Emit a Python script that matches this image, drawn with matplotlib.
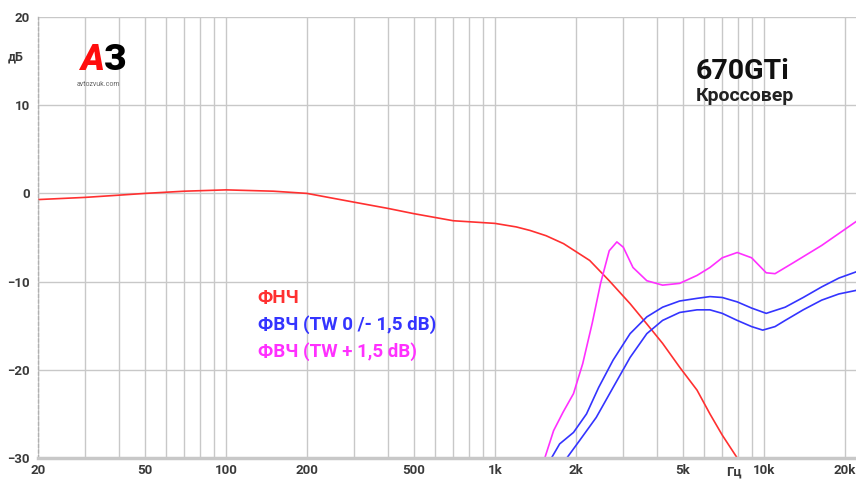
import matplotlib
matplotlib.use('Agg')
import matplotlib.pyplot as plt

# crossover response (Hz, dB)
freq_lp = [20, 30, 40, 50, 70, 100, 150, 200, 300, 400, 500, 700, 1000, 1200, 1350, 1550,
           1800, 2250, 2660, 3180, 3670, 4200, 4860, 5640, 6300, 7000, 7960, 8500]
db_lp = [-0.7, -0.45, -0.2, 0.0, 0.25, 0.4, 0.25, 0.0, -1.0, -1.7, -2.3, -3.1, -3.4, -3.8, -4.2, -4.8,
         -5.7, -7.6, -9.9, -12.5, -14.8, -17.0, -19.7, -22.3, -25.0, -27.4, -30.0, -31.5]

freq_hp_plus = [1450, 1532, 1652, 1792, 1959, 2120, 2300, 2470, 2660, 2840, 3000, 3260, 3670,
                4200, 4860, 5640, 6300, 7000, 7960, 9000, 10200, 11000, 12800, 16400, 22000]
db_hp_plus = [-33.0, -30.0, -26.9, -24.8, -22.7, -19.3, -14.7, -10.2, -6.5, -5.5, -6.1, -8.4, -9.9,
              -10.4, -10.2, -9.3, -8.4, -7.3, -6.7, -7.3, -9.0, -9.1, -7.9, -5.9, -3.2]

freq_hp_0 = [1550, 1622, 1740, 1959, 2190, 2430, 2750, 3180, 3670, 4200, 4860, 5640, 6300,
             7000, 7960, 9000, 10200, 12000, 14000, 16400, 19000, 22000]
db_hp_0 = [-31.0, -30.0, -28.4, -27.1, -25.0, -22.0, -18.9, -15.9, -14.0, -12.9, -12.2, -11.9, -11.7,
           -11.8, -12.3, -13.0, -13.6, -12.9, -11.8, -10.6, -9.6, -8.9]

freq_hp_minus = [1750, 1850, 2066, 2380, 2750, 3180, 3670, 4200, 4860, 5640, 6300, 7000, 7960,
                 9000, 9900, 11000, 12000, 14000, 16400, 19000, 22000]
db_hp_minus = [-31.5, -30.0, -28.0, -25.4, -22.0, -18.6, -15.9, -14.4, -13.5, -13.2, -13.2, -13.6, -14.4,
               -15.1, -15.5, -15.1, -14.4, -13.2, -12.1, -11.4, -11.0]

x_ticks = [20, 50, 100, 200, 500, 1000, 2000, 5000, 10000, 20000]
x_tick_labels = ['20', '50', '100', '200', '500', '1k', '2k', '5k', '10k', '20k']
y_ticks = [-30, -20, -10, 0, 10, 20]

legend_lines = ['ФНЧ', 'ФВЧ (TW 0 /- 1,5 dB)', 'ФВЧ (TW + 1,5 dB)']

RED = '#ff3030'
BLUE = '#3434ff'
MAGENTA = '#ff30ff'

plt.rcParams['font.family'] = ['Roboto', 'DejaVu Sans']

fig = plt.figure(figsize=(8.56, 4.8), dpi=100)
ax = fig.add_axes([0.0444, 0.0458, 0.9556, 0.9188])

ax.set_xscale('log')
ax.set_xlim(20, 22000)
ax.set_ylim(-30, 20)

minor = []
for dec in [10, 100, 1000, 10000]:
    for m in range(2, 10):
        if 20 <= m * dec <= 22000:
            minor.append(m * dec)
ax.set_xticks(minor, minor=True)
ax.set_xticks(x_ticks)
ax.set_xticklabels(x_tick_labels)
ax.set_yticks(y_ticks)
ax.tick_params(axis='both', which='both', length=0, labelsize=9.5, labelcolor='#3a3a3a')
ax.tick_params(axis='x', pad=4)
ax.tick_params(axis='y', pad=6)
for lbl in ax.get_xticklabels() + ax.get_yticklabels():
    lbl.set_fontweight('bold')

ax.grid(True, which='both', color='#c8c8c8', linewidth=1.0)
ax.set_axisbelow(True)

for s in ['top', 'right']:
    ax.spines[s].set_visible(False)
ax.spines['left'].set_color('#b0b0b0')
ax.spines['left'].set_linestyle((0, (2, 2)))
ax.spines['left'].set_linewidth(1.0)
ax.spines['bottom'].set_color('#c8c8c8')
ax.spines['bottom'].set_linewidth(2.5)

ax.plot(freq_lp, db_lp, color=RED, linewidth=1.2)
ax.plot(freq_hp_0, db_hp_0, color=BLUE, linewidth=1.2)
ax.plot(freq_hp_minus, db_hp_minus, color=BLUE, linewidth=1.2)
ax.plot(freq_hp_plus, db_hp_plus, color=MAGENTA, linewidth=1.2)

# legend as coloured text
for txt, col, yy in zip(legend_lines, [RED, BLUE, MAGENTA], [0.379, 0.323, 0.267]):
    fig.text(0.301, yy, txt, color=col, fontsize=13.5, fontweight='bold', va='center', ha='left')

# title block
fig.text(0.813, 0.852, '670GTi', fontsize=20.5, fontweight='bold', color='#111111', va='center')
fig.text(0.813, 0.800, 'Кроссовер', fontsize=14, fontweight='bold', color='#222222', va='center')

# logo
fig.text(0.094, 0.875, 'А', fontsize=26, fontweight='black', color='#ff0d0d', va='center',
         ha='left', fontstyle='italic')
fig.text(0.121, 0.875, 'З', fontsize=26, fontweight='black', color='#000000', va='center',
         ha='left')
fig.text(0.090, 0.823, 'avtozvuk.com', fontsize=5, color='#666666', va='center', ha='left')

# axis units
fig.text(0.009, 0.881, 'дБ', fontsize=9, fontweight='bold', color='#3a3a3a', va='center')
fig.text(0.848, 0.017, 'Гц', fontsize=9.5, fontweight='bold', color='#3a3a3a', va='center')

fig.savefig('out.png', dpi=100)
